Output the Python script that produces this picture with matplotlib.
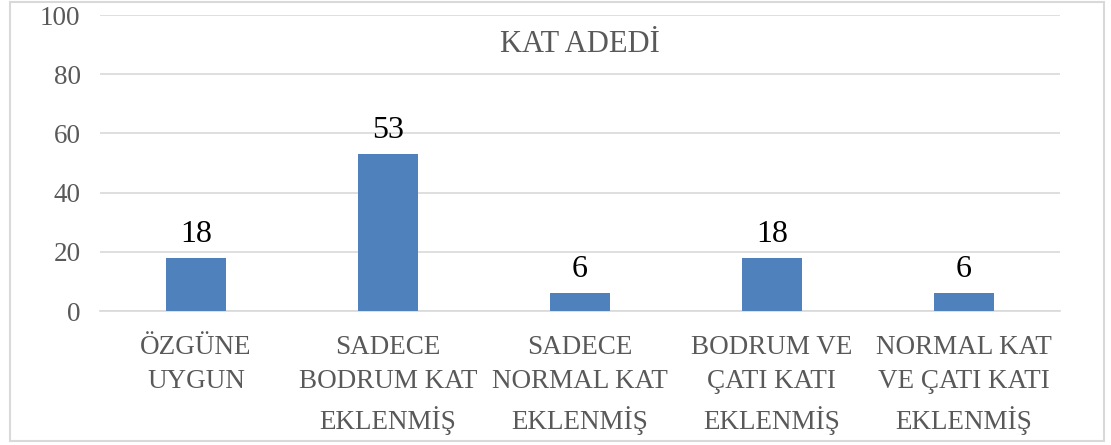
import matplotlib.pyplot as plt
from matplotlib.patches import Rectangle

kategoriler = ['ÖZGÜNE\nUYGUN', 'SADECE\nBODRUM KAT\nEKLENMİŞ', 'SADECE\nNORMAL KAT\nEKLENMİŞ',
               'BODRUM VE\nÇATI KATI\nEKLENMİŞ', 'NORMAL KAT\nVE ÇATI KATI\nEKLENMİŞ']
degerler = [18, 53, 6, 18, 6]
y_ticks = [0, 20, 40, 60, 80, 100]

plt.rcParams['font.family'] = ['Liberation Serif', 'DejaVu Serif']

fig = plt.figure(figsize=(11.11, 4.45), dpi=100)
ax = fig.add_axes([0.09, 0.301, 0.864, 0.665])

x = range(len(kategoriler))
bars = ax.bar(x, degerler, width=0.31, color='#4F81BD', zorder=3)
for b, v in zip(bars, degerler):
    ax.text(b.get_x() + b.get_width() / 2, v + 3, str(v), ha='center', va='bottom',
            fontsize=23, color='black')

ax.set_xlim(-0.5, len(kategoriler) - 0.5)
ax.set_ylim(0, 100)
ax.set_yticks(y_ticks)
ax.set_xticks(list(x))
ax.set_xticklabels(kategoriler, fontsize=19.5, color='#595959', linespacing=1.5, va='top')
ax.tick_params(axis='y', labelsize=19.5, labelcolor='#595959', length=0, pad=14)
ax.tick_params(axis='x', length=0, pad=17)
ax.grid(axis='y', color='#D9D9D9', linewidth=1.2, zorder=0)
for s in ['top', 'right', 'left']:
    ax.spines[s].set_visible(False)
ax.spines['bottom'].set_color('#D9D9D9')
ax.spines['bottom'].set_linewidth(1.2)

ax.text(0.5, 0.9, 'KAT ADEDİ', transform=ax.transAxes, ha='center', va='center',
        fontsize=22, color='#595959')

fig.patches.append(Rectangle((0.009, 0.008), 0.985, 0.988, transform=fig.transFigure,
                             fill=False, edgecolor='#D9D9D9', linewidth=1.5))

plt.savefig('out.png', dpi=100)
